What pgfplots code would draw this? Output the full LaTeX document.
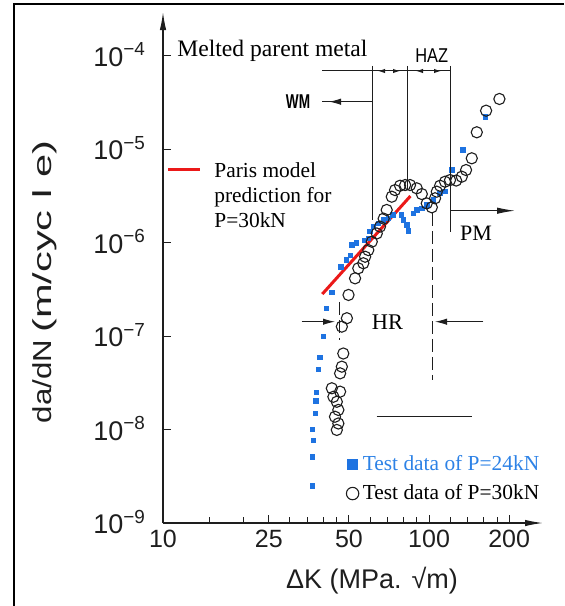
\documentclass[border=0pt]{standalone}
\usepackage{fontspec}
\setmainfont{Liberation Serif}
\newfontfamily\arial{Liberation Sans}
\usepackage{graphicx}
\usepackage{pgfplots}
\pgfplotsset{compat=1.18}
\usetikzlibrary{arrows.meta}
\definecolor{c24}{RGB}{30,115,225}
\definecolor{c24t}{RGB}{45,130,230}
\definecolor{pred}{RGB}{235,25,25}
\definecolor{ink}{RGB}{30,30,30}

\begin{document}
\begin{tikzpicture}
\useasboundingbox (0,0) rectangle (282pt,303pt);
\begin{axis}[
  at={(81.5pt,41.5pt)}, anchor=south west,
  scale only axis, width=190pt, height=255.5pt,
  xmode=log, ymode=log,
  xmin=10, xmax=268, ymin=1e-9, ymax=2.92e-4,
  axis lines=left,
  axis line style={line width=0.6pt, ink, -{Latex[length=9pt,width=3.2pt]}},
  xtick={10,25,50,100,200}, xticklabels={10,25,50,100,200},
  minor xtick={15,20,30,35,40,45,60,70,80,90,120,140,160,180},
  ytick={1e-9,1e-8,1e-7,1e-6,1e-5,1e-4},
  yticklabels={10\textsuperscript{−9},10\textsuperscript{−8},10\textsuperscript{−7},10\textsuperscript{−6},10\textsuperscript{−5},10\textsuperscript{−4}},
  minor y tick style={draw=none},
  tick align=inside,
  major tick length=4pt, minor tick length=3pt,
  tick style={line width=0.5pt, ink},
  ticklabel style={font=\arial\fontsize{12.5}{12.5}\selectfont, text=ink},
  yticklabel style={font=\arial\fontsize{13.5}{13.5}\selectfont, xshift=-5pt, yshift=0.5pt},
  xlabel={\arial\fontsize{13.5}{13.5}\selectfont ΔK (MPa. √m)},
  xlabel style={at={(axis description cs:0.55,-0.112)}, anchor=center, text=ink},
  ylabel={\arial\fontsize{13}{13}\selectfont\scalebox{1.2}[1]{da/dN} \scalebox{1.6}[1]{(m/cyc l e)}},
  ylabel style={at={(axis description cs:-0.3105,0.4716)}, anchor=center, text=ink},
  clip=false,
  legend cell align=left,
  legend style={at={(axis description cs:0.4816,0.0861)}, anchor=west, draw=none, fill=none,
    font=\fontsize{10.7}{10.7}\selectfont, row sep=1.5pt, inner sep=0pt},
]
\addplot[only marks, mark=square*, mark size=1.1pt, color=c24,
  legend image code/.code={\draw[only marks, mark=square*, mark size=2.6pt, color=c24] plot coordinates {(0pt,0pt)};}]
coordinates {
(36.5,2.5e-9) (36.5,5.1e-9) (36.7,7.6e-9) (36.5,1.0e-8) (37.3,1.49e-8)
(37.6,2.03e-8) (37.8,2.48e-8) (38.4,4.4e-8) (38.9,5.9e-8) (40.1,9.9e-8)
(41.2,1.98e-7) (43.1,2.93e-7) (46.7,5.5e-7) (48.8,6.5e-7) (50.5,7.3e-7)
(51.2,9.4e-7) (53.2,9.9e-7) (57.0,1.06e-6) (59.1,1.11e-6) (60.0,1.31e-6)
(61.7,1.48e-6) (64.4,1.6e-6) (67.3,1.74e-6) (70.3,1.82e-6) (73.2,1.97e-6)
(78.9,1.97e-6) (80.1,1.74e-6) (82.5,1.54e-6) (83.6,1.33e-6) (87.3,2.05e-6)
(89.9,2.23e-6) (93.9,2.32e-6) (98.0,2.52e-6) (103.8,2.85e-6) (110,3.36e-6)
(114.8,3.5e-6) (121.7,5.96e-6) (133.9,9.8e-6) (162.4,2.2e-5)
};
\addlegendentry{\textcolor{c24t}{Test data of P=24kN}}
\addplot[only marks, mark=o, mark size=2.8pt, color=ink, mark options={line width=0.55pt},
  legend image code/.code={\draw[only marks, mark=o, mark size=3.1pt, color=ink, line width=0.55pt] plot coordinates {(0pt,0pt)};}]
coordinates {
(45.0,9.9e-9) (45.6,1.16e-8) (44.3,1.37e-8) (45.6,1.62e-8) (45.0,1.98e-8)
(43.7,2.24e-8) (43.1,2.76e-8) (46.3,2.54e-8) (46.3,3.99e-8) (47.0,4.7e-8)
(47.6,6.5e-8) (47.0,1.26e-7) (49.1,1.55e-7) (49.8,2.75e-7) (52.7,4.14e-7)
(54.2,5.3e-7) (56.6,6.0e-7) (57.5,7.05e-7) (59.1,8.3e-7) (60.9,1.02e-6)
(63.6,1.25e-6) (65.4,1.48e-6) (67.5,1.8e-6) (69.3,2.23e-6) (72.4,3.09e-6)
(74.5,3.64e-6) (77.8,4.05e-6) (81.3,4.12e-6) (84.8,4.12e-6) (89.9,3.8e-6)
(93.9,3.3e-6) (98.0,2.62e-6) (102.4,2.38e-6) (105.3,2.97e-6) (106.9,3.5e-6)
(110,4.05e-6) (114.8,4.47e-6) (119.9,4.66e-6) (126.4,4.6e-6) (132.7,5.06e-6)
(137.7,5.96e-6) (144.7,7.96e-6) (151.1,1.51e-5) (163.8,2.57e-5) (183.8,3.43e-5)
};
\addlegendentry{Test data of P=30kN}
\addplot[pred, line width=1.5pt, no marks, forget plot] coordinates {(39.7,2.81e-7) (85.1,3.14e-6)};
\end{axis}
\begin{scope}[x=0.5pt,y=-0.5pt,yshift=303pt]
% frame
\draw[line width=1pt] (14,606) -- (14,4) -- (564,4);
% top annotations
\node[anchor=base west, inner sep=0pt, font=\fontsize{11.8}{11.8}\selectfont] at (177,57) {Melted parent metal};
\node[anchor=base west, inner sep=0pt, font=\arial\fontsize{10}{10}\selectfont] at (415,63) {\scalebox{0.82}[1]{HAZ}};
\draw[ink, line width=0.5pt] (322,71) -- (450,71);
\draw[ink, line width=0.5pt] (372.3,66) -- (372.3,220);
\draw[ink, line width=0.5pt] (407.5,66) -- (407.5,190);
\draw[ink, line width=0.5pt] (450,66) -- (450,232);
\draw[ink, line width=0.5pt, -{Latex[length=3.5pt,width=2.2pt]}] (386,71) -- (378,71);
\draw[ink, line width=0.5pt, -{Latex[length=3.5pt,width=2.2pt]}] (392,71) -- (400,71);
\draw[ink, line width=0.5pt, -{Latex[length=3.5pt,width=2.2pt]}] (425,71) -- (416,71);
\draw[ink, line width=0.5pt, -{Latex[length=3.5pt,width=2.2pt]}] (432,71) -- (441,71);
% WM
\node[inner sep=0pt, font=\arial\bfseries\fontsize{10}{10}\selectfont] at (298,102) {\scalebox{0.68}[1]{WM}};
\draw[ink, line width=0.5pt] (322,101.7) -- (372.3,101.7);
\draw[ink, line width=0.5pt, -{Latex[length=6pt,width=3.2pt]}] (345,101.7) -- (329,101.7);
% Paris legend
\draw[pred, line width=1.5pt] (168,170) -- (200,170);
\node[anchor=west, inner sep=0pt, align=left, font=\fontsize{10.7}{12.5}\selectfont] at (214,195) {Paris model\\prediction for\\P=30kN};
% PM
\draw[ink, line width=0.5pt, -{Latex[length=9pt,width=3.2pt]}] (450,210.7) -- (515,210.7);
\node[inner sep=0pt, font=\fontsize{11}{11}\selectfont] at (476,233) {PM};
% HR
\node[inner sep=0pt, font=\fontsize{11.2}{11.2}\selectfont] at (387.5,322) {HR};
\draw[ink, line width=0.5pt, -{Latex[length=6pt,width=3.2pt]}] (301.7,321.7) -- (335,321.7);
\draw[ink, line width=0.5pt, dash pattern=on 6.5pt off 2.5pt] (339.3,302) -- (339.3,340);
\draw[ink, line width=0.5pt, dash pattern=on 6.5pt off 2.5pt] (432.7,213) -- (432.7,380);
\draw[ink, line width=0.5pt] (483.3,321.7) -- (440,321.7);
\draw[ink, line width=0.5pt, -{Latex[length=6pt,width=3.2pt]}] (455,321.7) -- (435,321.7);
\draw[ink, line width=0.5pt] (376.7,416.7) -- (471.7,416.7);
\end{scope}
\end{tikzpicture}
\end{document}
